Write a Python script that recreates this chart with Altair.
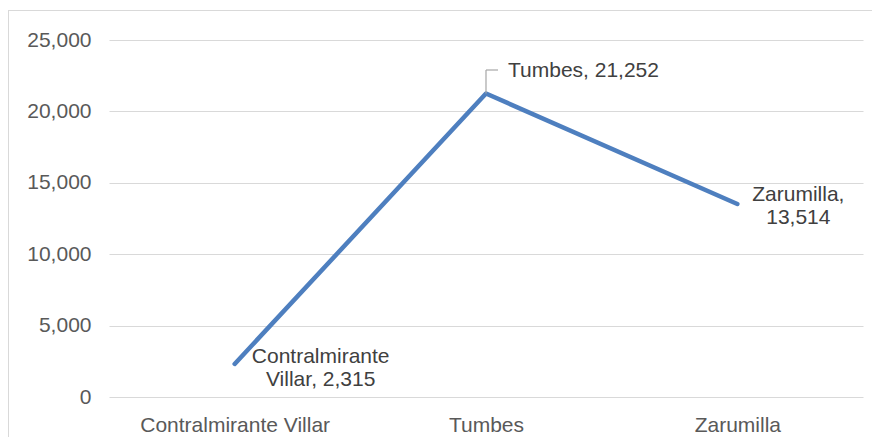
import altair as alt
import pandas as pd

categories = ["Contralmirante Villar", "Tumbes", "Zarumilla"]
values = [2315, 21252, 13514]
label_lines = [["Contralmirante", "Villar, 2,315"], ["Tumbes, 21,252"], ["Zarumilla,", "13,514"]]
y_ticks = [0, 5000, 10000, 15000, 20000, 25000]

df = pd.DataFrame({"cat": categories, "val": values, "lab": label_lines})

FONT = "Liberation Sans"
BLUE = "#4E7FBF"

x = alt.X("cat:N", sort=categories, scale=alt.Scale(type="point", padding=0.5),
          axis=alt.Axis(title=None, labelAngle=0, domain=False, ticks=False, grid=False,
                        labelFont=FONT, labelFontSize=21, labelColor="#595959",
                        labelPadding=17, labelBaseline="top", labelLimit=400))
y = alt.Y("val:Q", scale=alt.Scale(domain=[0, 25000], nice=False),
          axis=alt.Axis(title=None, values=y_ticks, format=",d", domain=False, ticks=False,
                        gridColor="#D9D9D9", gridWidth=1,
                        labelFont=FONT, labelFontSize=21, labelColor="#595959",
                        labelPadding=18))

base = alt.Chart(df)

line = base.mark_line(color=BLUE, strokeWidth=4.5, strokeCap="round", strokeJoin="round").encode(x=x, y=y)

def lab(cat, **kw):
    return base.transform_filter(alt.datum.cat == cat).mark_text(
        font=FONT, fontSize=21, color="#404040", lineHeight=23, **kw
    ).encode(x=x, y=y, text="lab")

lab_cv = lab("Contralmirante Villar", align="center", baseline="middle", dx=86, dy=-7)
lab_tu = lab("Tumbes", align="left", baseline="middle", dx=22, dy=-23)
lab_za = lab("Zarumilla", align="center", baseline="middle", dx=61, dy=-9)

tum = base.transform_filter(alt.datum.cat == "Tumbes")
leader_v = tum.mark_rule(color="#A6A6A6", strokeWidth=1.2).encode(
    x=x, y=y, y2=alt.value(30))
leader_h = tum.mark_rule(color="#A6A6A6", strokeWidth=1.2).encode(
    x=x, x2=alt.value(389), y=alt.value(30))

frame_l = alt.Chart(df).mark_rule(color="#D9D9D9", strokeWidth=1).encode(
    x=alt.value(-100.5), y=alt.value(-29.5), y2=alt.value(440))
frame_t = alt.Chart(df).mark_rule(color="#D9D9D9", strokeWidth=1).encode(
    x=alt.value(-100.5), x2=alt.value(800), y=alt.value(-29.5))

chart = alt.layer(line, leader_v, leader_h, lab_cv, lab_tu, lab_za, frame_l, frame_t).properties(
    width=754, height=357,
    background="white",
    autosize=alt.AutoSizeParams(type="none"),
    padding={"left": 101, "top": 32, "right": 9, "bottom": 40},
).configure_view(stroke="transparent", strokeWidth=0)

chart.save("out.html", embed_options={"renderer": "svg", "actions": False})
